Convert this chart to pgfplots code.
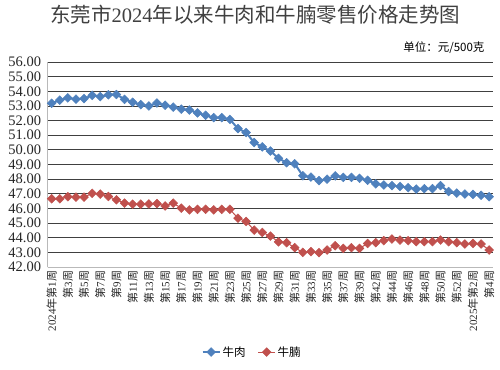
\documentclass[border=0pt]{standalone}
\usepackage{fontspec}
\setmainfont{Liberation Serif}
\newfontfamily\cjk{Noto Sans CJK SC}
\usepackage{pgfplots}
\pgfplotsset{compat=1.18}
\definecolor{exblue}{HTML}{4F81BD}
\definecolor{exred}{HTML}{C0504D}
\newcommand\wk[1]{{\cjk 第}#1{\cjk 周}}
\begin{document}
\begin{tikzpicture}
\path[use as bounding box] (0pt,0pt) rectangle (500pt,369pt);
\begin{axis}[
 scale only axis, width=445.6pt, height=205pt,
 at={(47.6pt,102pt)}, anchor=south west,
 xmin=0.5, xmax=55.5, ymin=42, ymax=56,
 ytick={42,43,...,56},
 xtick={1,3,...,55},
 xticklabels={{2024{\cjk 年}\wk{1}},\wk{3},\wk{5},\wk{7},\wk{9},\wk{11},\wk{13},\wk{15},\wk{17},\wk{19},\wk{21},\wk{23},\wk{25},\wk{27},\wk{29},\wk{31},\wk{33},\wk{35},\wk{37},\wk{39},\wk{42},\wk{44},\wk{46},\wk{48},\wk{50},\wk{52},{2025{\cjk 年}\wk{2}},\wk{4}},
 axis x line*=bottom, axis y line*=left,
 axis line style={gray!55, line width=0.9pt, -},
 ymajorgrids, grid style={black!75, line width=0.8pt},
 major tick length=0pt,
 yticklabel={\pgfmathprintnumber[fixed,fixed zerofill,precision=2,assume math mode=true]{\tick}},
 yticklabel style={font=\fontsize{14.5}{15}\selectfont, text=black!85, xshift=-3pt},
 xticklabel style={rotate=90, anchor=east, font=\fontsize{11}{11}\selectfont, text=black!85},
 legend style={at={(0.459,-0.415)}, anchor=center, draw=none, legend columns=2, font=\cjk\fontsize{11.5}{12}\selectfont, /tikz/every even column/.append style={column sep=10pt}},
]
\addplot[color=exblue, line width=2pt, mark=square*, mark size=3.1pt, mark options={rotate=45, fill=exblue, line width=0.5pt}] coordinates {
(1,53.18)(2,53.39)(3,53.55)(4,53.46)(5,53.50)(6,53.72)(7,53.64)(8,53.76)(9,53.78)(10,53.45)
(11,53.25)(12,53.09)(13,53.00)(14,53.20)(15,53.05)(16,52.92)(17,52.78)(18,52.72)(19,52.52)(20,52.36)
(21,52.20)(22,52.20)(23,52.08)(24,51.45)(25,51.18)(26,50.50)(27,50.20)(28,49.92)(29,49.42)(30,49.12)
(31,49.05)(32,48.23)(33,48.14)(34,47.90)(35,48.00)(36,48.22)(37,48.12)(38,48.12)(39,48.06)(40,47.92)
(41,47.68)(42,47.60)(43,47.56)(44,47.50)(45,47.42)(46,47.32)(47,47.35)(48,47.35)(49,47.56)(50,47.15)
(51,47.05)(52,46.98)(53,46.96)(54,46.90)(55,46.80)};
\addlegendentry{牛肉}
\addplot[color=exred, line width=1pt, mark=square*, mark size=3.1pt, mark options={rotate=45, fill=exred, line width=0.5pt}] coordinates {
(1,46.66)(2,46.66)(3,46.80)(4,46.77)(5,46.77)(6,47.03)(7,46.98)(8,46.82)(9,46.59)(10,46.36)
(11,46.29)(12,46.29)(13,46.31)(14,46.33)(15,46.17)(16,46.36)(17,46.02)(18,45.90)(19,45.94)(20,45.94)
(21,45.90)(22,45.94)(23,45.94)(24,45.33)(25,45.11)(26,44.52)(27,44.36)(28,44.11)(29,43.72)(30,43.66)
(31,43.32)(32,43.00)(33,43.05)(34,42.98)(35,43.16)(36,43.45)(37,43.27)(38,43.32)(39,43.27)(40,43.61)
(41,43.66)(42,43.80)(43,43.91)(44,43.84)(45,43.80)(46,43.73)(47,43.73)(48,43.73)(49,43.84)(50,43.73)
(51,43.66)(52,43.57)(53,43.61)(54,43.57)(55,43.16)};
\addlegendentry{牛腩}
\end{axis}
\node[font=\fontsize{20.5}{21}\selectfont, text=black!75] at (255pt,354pt) {{\cjk 东莞市}2024{\cjk 年以来牛肉和牛腩零售价格走势图}};
\node[anchor=east, font=\cjk\fontsize{11.5}{12}\selectfont] at (488pt,321pt) {单位：元/500克};
\end{tikzpicture}
\end{document}
